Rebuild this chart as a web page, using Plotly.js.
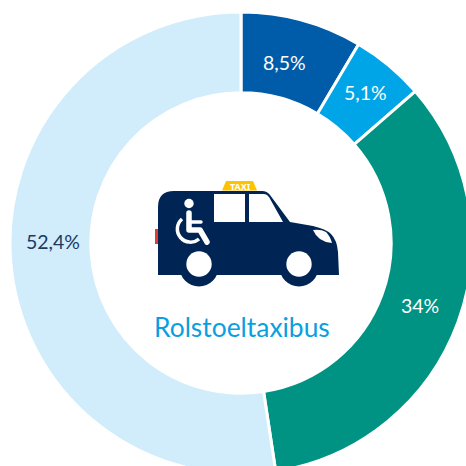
<!DOCTYPE html>
<html><head><meta charset="utf-8">
<script src="https://cdn.plot.ly/plotly-3.0.1.min.js"></script>
<style>html,body{margin:0;padding:0;background:#fff;overflow:hidden}#wrap{width:466px;height:466px;overflow:hidden}</style>
</head><body><div id="wrap"><div id="chart"></div></div>
<script>
const categories = ["Segment A", "Segment B", "Segment C", "Segment D"];
const values = [8.5, 5.1, 34, 52.4];
const valueLabels = ["8,5%", "5,1%", "34%", "52,4%"];
const sliceColors = ["#005ca9", "#00a5e8", "#009384", "#d1ecfa"];
const labelColors = ["#ffffff", "#ffffff", "#ffffff", "#1d3a5f"];
const centerTitle = "Rolstoeltaxibus";

const W = 472, H = 474, L = 10, T = 12, S = 462;
const px = x => (x - L) / S, py = y => 1 - (y - T) / S;
const labelAnchors = [[284, 63], [365, 92], [420, 305], [53, 241]];

const carSvg = `<svg xmlns="http://www.w3.org/2000/svg" width="200" height="120" viewBox="150 175 200 120">
<rect x="155" y="229" width="4" height="15" fill="#e03c31"/>
<path d="M222 190.5L226 181H253L257 190.5Z" fill="#fdc300"/>
<path d="M158 275V207Q158 191 174 191H262Q267 191 270 195L290 222L313 226Q326 229 331 234Q337 240 338 252L339 275Z" fill="#002554"/>
<circle cx="199" cy="267" r="19.5" fill="#002554"/><circle cx="299" cy="267" r="19.5" fill="#002554"/>
<circle cx="199" cy="264" r="12.7" fill="#fff"/><circle cx="299" cy="264" r="12.7" fill="#fff"/>
<path d="M214 194H245V222H214ZM249 194H264Q267 194 269 197L283 222H249Z" fill="#fff"/>
<path d="M313 230Q321 229 326 232Q330 236 332 243Q318 242 313 230Z" fill="#fff"/>
<circle cx="189" cy="203.5" r="4.7" fill="#fff"/>
<path d="M189 213V230H200L207 242" fill="none" stroke="#fff" stroke-width="5.5" stroke-linecap="round" stroke-linejoin="round"/>
<path d="M189 222H201" stroke="#fff" stroke-width="3.5" stroke-linecap="round"/>
<path d="M182 219A12.5 12.5 0 1 0 199 239" fill="none" stroke="#fff" stroke-width="3.5"/>
</svg>`;

const FONT = "Lato, 'Noto Sans', sans-serif";
const sliceNotes = valueLabels.map((t, i) => ({
  text: t, xref: "paper", yref: "paper", x: px(labelAnchors[i][0]), y: py(labelAnchors[i][1]),
  showarrow: false, xanchor: "center", yanchor: "middle",
  font: {family: FONT, size: 19.5, color: labelColors[i]}
}));

Plotly.newPlot("chart", [{
  type: "pie",
  labels: categories,
  values: values,
  textinfo: "none",
  hole: 0.65,
  sort: false,
  direction: "clockwise",
  rotation: 0,
  marker: {colors: sliceColors, line: {color: "#ffffff", width: 3}},
  domain: {x: [0, 1], y: [0, 1]},
  hoverinfo: "skip"
}], {
  width: W, height: H,
  margin: {l: L, r: W - L - S, t: T, b: H - T - S},
  paper_bgcolor: "#ffffff",
  showlegend: false,
  images: [{
    source: "data:image/svg+xml;charset=utf-8," + encodeURIComponent(carSvg),
    xref: "paper", yref: "paper", x: px(150), y: py(175),
    sizex: 200 / S, sizey: 120 / S, sizing: "stretch", xanchor: "left", yanchor: "top", layer: "above"
  }],
  annotations: sliceNotes.concat([
    {text: centerTitle, xref: "paper", yref: "paper", x: px(242), y: py(326.5), showarrow: false,
     xanchor: "center", yanchor: "middle", font: {family: FONT, size: 26.4, color: "#0a9fe0"}},
    {text: "<b>TAXI</b>", xref: "paper", yref: "paper", x: px(240), y: py(186), showarrow: false,
     xanchor: "center", yanchor: "middle", font: {family: "'Noto Sans', sans-serif", size: 9, color: "#ffffff"}}
  ])
}, {displayModeBar: false, staticPlot: true});
</script></body></html>
